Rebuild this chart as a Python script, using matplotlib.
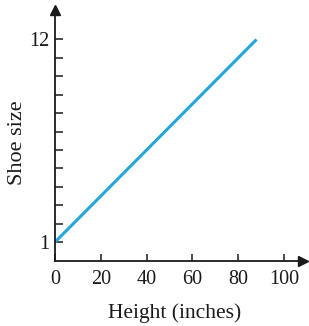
import matplotlib
matplotlib.use("Agg")
import matplotlib.pyplot as plt

# line: shoe size vs height
height = [0, 88]
shoe_size = [1, 12]

xticks = [0, 20, 40, 60, 80, 100]
yticks = list(range(1, 13))
ytick_labels = ["1"] + [""] * 10 + ["12"]

plt.rcParams['font.family'] = ['Liberation Serif', 'DejaVu Serif']

W, H = 309, 326
fig = plt.figure(figsize=(W / 100, H / 100), dpi=100)
ax = fig.add_axes([55 / W, (H - 260.5) / H, (303 - 55) / W, (260.5 - 10) / H])

ax.plot(height, shoe_size, color='#25a6d9', lw=2.2, solid_capstyle='butt')

ax.set_xlim(0, 108.3)
ax.set_ylim(0, 13.6)
ax.spines['top'].set_visible(False)
ax.spines['right'].set_visible(False)
for s in ['left', 'bottom']:
    ax.spines[s].set_linewidth(1.3)
    ax.spines[s].set_color('#1a1a1a')

# arrow heads at the ends of the axes
ax.plot(1, 0, '>', color='#1a1a1a', ms=7, transform=ax.get_yaxis_transform(), clip_on=False)
ax.plot(0, 1, '^', color='#1a1a1a', ms=7, transform=ax.get_xaxis_transform(), clip_on=False)

ax.set_xticks(xticks)
ax.set_yticks(yticks)
ax.set_yticklabels(ytick_labels)
ax.tick_params(axis='x', direction='in', length=5, width=1.1, pad=7, labelsize=14.5, colors='#1a1a1a')
ax.tick_params(axis='y', direction='in', length=6, width=1.1, pad=4, labelsize=14.5, colors='#1a1a1a')

fig.text(18 / W, 1 - 143 / H, 'Shoe size', rotation=90, ha='center', va='center', fontsize=16, color='#1a1a1a')
fig.text(175 / W, 1 - 313 / H, 'Height (inches)', ha='center', va='center', fontsize=15.5, color='#1a1a1a')

fig.savefig('out.png', dpi=100)
